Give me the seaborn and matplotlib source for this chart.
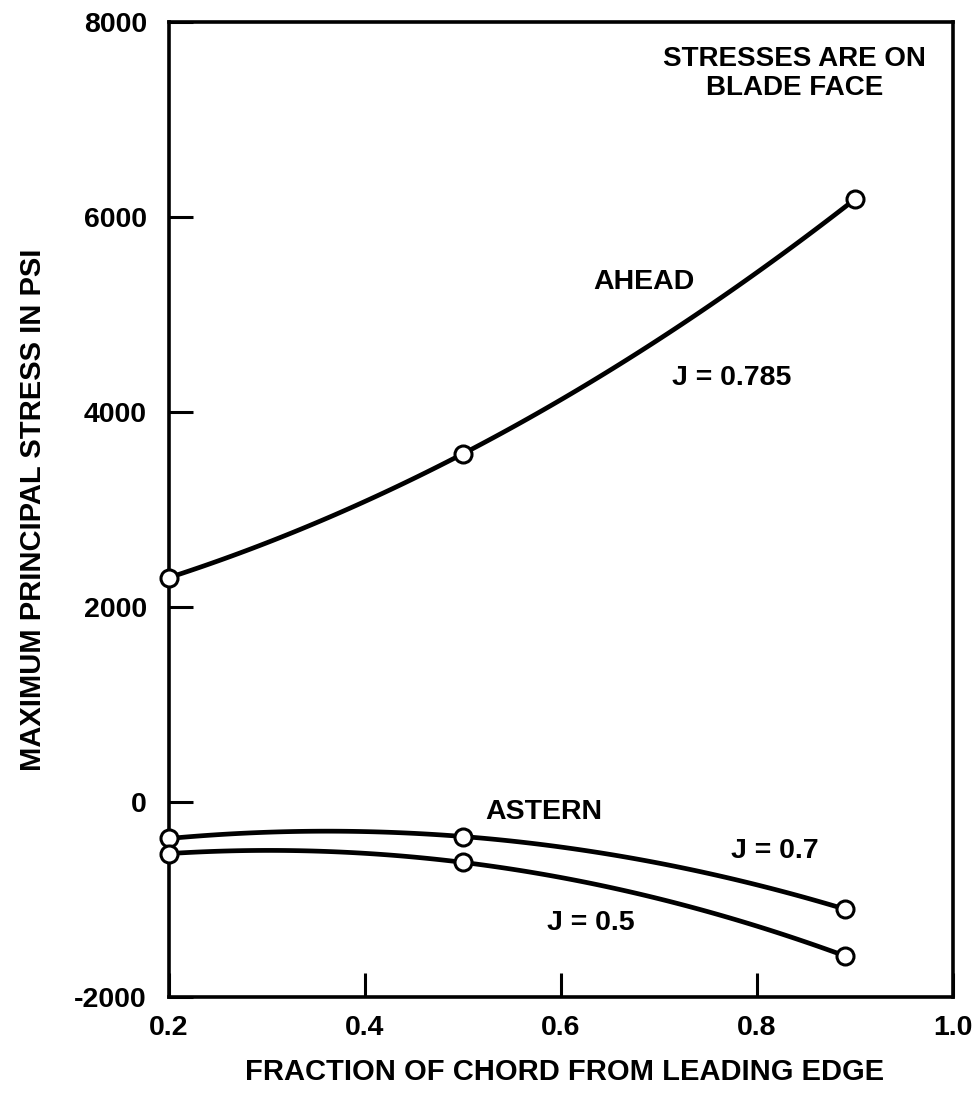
import pandas as pd
import matplotlib.pyplot as plt
import seaborn as sns

# values
chord_ahead = [0.2, 0.5, 0.9]
stress_ahead = [2300, 3570, 6180]

chord_astern = [0.2, 0.5, 0.89]
stress_astern_j07 = [-375, -355, -1100]
stress_astern_j05 = [-530, -620, -1580]

x_ticks = [0.2, 0.4, 0.6, 0.8, 1.0]
x_tick_labels = ['0.2', '0.4', '0.6', '0.8', '1.0']
y_ticks = [-2000, 0, 2000, 4000, 6000, 8000]
y_tick_labels = ['-2000', '0', '2000', '4000', '6000', '8000']


def build_frame():
    ahead = pd.DataFrame({'chord': chord_ahead, 'stress': stress_ahead, 'case': 'ahead'})
    j07 = pd.DataFrame({'chord': chord_astern, 'stress': stress_astern_j07, 'case': 'j07'})
    j05 = pd.DataFrame({'chord': chord_astern, 'stress': stress_astern_j05, 'case': 'j05'})
    return pd.concat([ahead, j07, j05], ignore_index=True)


def plot_stress(df):
    sns.set_theme(style='white')
    plt.rcParams['font.family'] = ['Liberation Sans', 'DejaVu Sans']
    plt.rcParams['font.weight'] = 'bold'

    fig = plt.figure(figsize=(9.78, 10.97), dpi=100)
    ax = fig.add_axes([0.1728, 0.0912, 0.8016, 0.889])

    # smooth curves: 2nd order fit through the three points of each case
    for case in ['ahead', 'j07', 'j05']:
        sub = df[df['case'] == case]
        sns.regplot(data=sub, x='chord', y='stress', order=2, ci=None,
                    scatter=False, ax=ax,
                    line_kws={'color': 'black', 'lw': 3.4, 'zorder': 3})

    sns.scatterplot(data=df, x='chord', y='stress', ax=ax, marker='o', s=150,
                    facecolor='white', edgecolor='black', linewidth=2.2,
                    zorder=5, clip_on=False, legend=False)

    ax.set_xlim(0.2, 1.0)
    ax.set_ylim(-2000, 8000)
    ax.set_xticks(x_ticks)
    ax.set_xticklabels(x_tick_labels)
    ax.set_yticks(y_ticks)
    ax.set_yticklabels(y_tick_labels)
    ax.tick_params(bottom=True, left=True, direction='in', length=17, width=2.2,
                   color='black', labelsize=20.5, labelcolor='black')
    ax.tick_params(axis='x', pad=13)
    ax.tick_params(axis='y', pad=16)
    for lab in ax.get_xticklabels() + ax.get_yticklabels():
        lab.set_fontweight('bold')

    for side in ['left', 'right', 'top', 'bottom']:
        ax.spines[side].set_color('black')
        ax.spines[side].set_linewidth(2.6)

    ax.set_xlabel('FRACTION OF CHORD FROM LEADING EDGE', fontsize=21,
                  fontweight='bold', color='black')
    ax.set_ylabel('MAXIMUM PRINCIPAL STRESS IN PSI', fontsize=21,
                  fontweight='bold', color='black')
    ax.xaxis.set_label_coords(0.505, -0.063)
    ax.yaxis.set_label_coords(-0.155, 0.5)

    txt = dict(fontsize=20.5, fontweight='bold', color='black', ha='center', va='center')
    ax.text(0.838, 7470, 'STRESSES ARE ON\nBLADE FACE', linespacing=1.15,
            **{**txt, 'fontsize': 20})
    ax.text(0.685, 5330, 'AHEAD', **txt)
    ax.text(0.774, 4350, 'J = 0.785', **txt)
    ax.text(0.582, -100, 'ASTERN', **txt)
    ax.text(0.818, -500, 'J = 0.7', **txt)
    ax.text(0.630, -1240, 'J = 0.5', **txt)

    fig.savefig('out.png', dpi=100, facecolor='white')
    print("Saved out.png")


if __name__ == "__main__":
    df = build_frame()
    plot_stress(df)
